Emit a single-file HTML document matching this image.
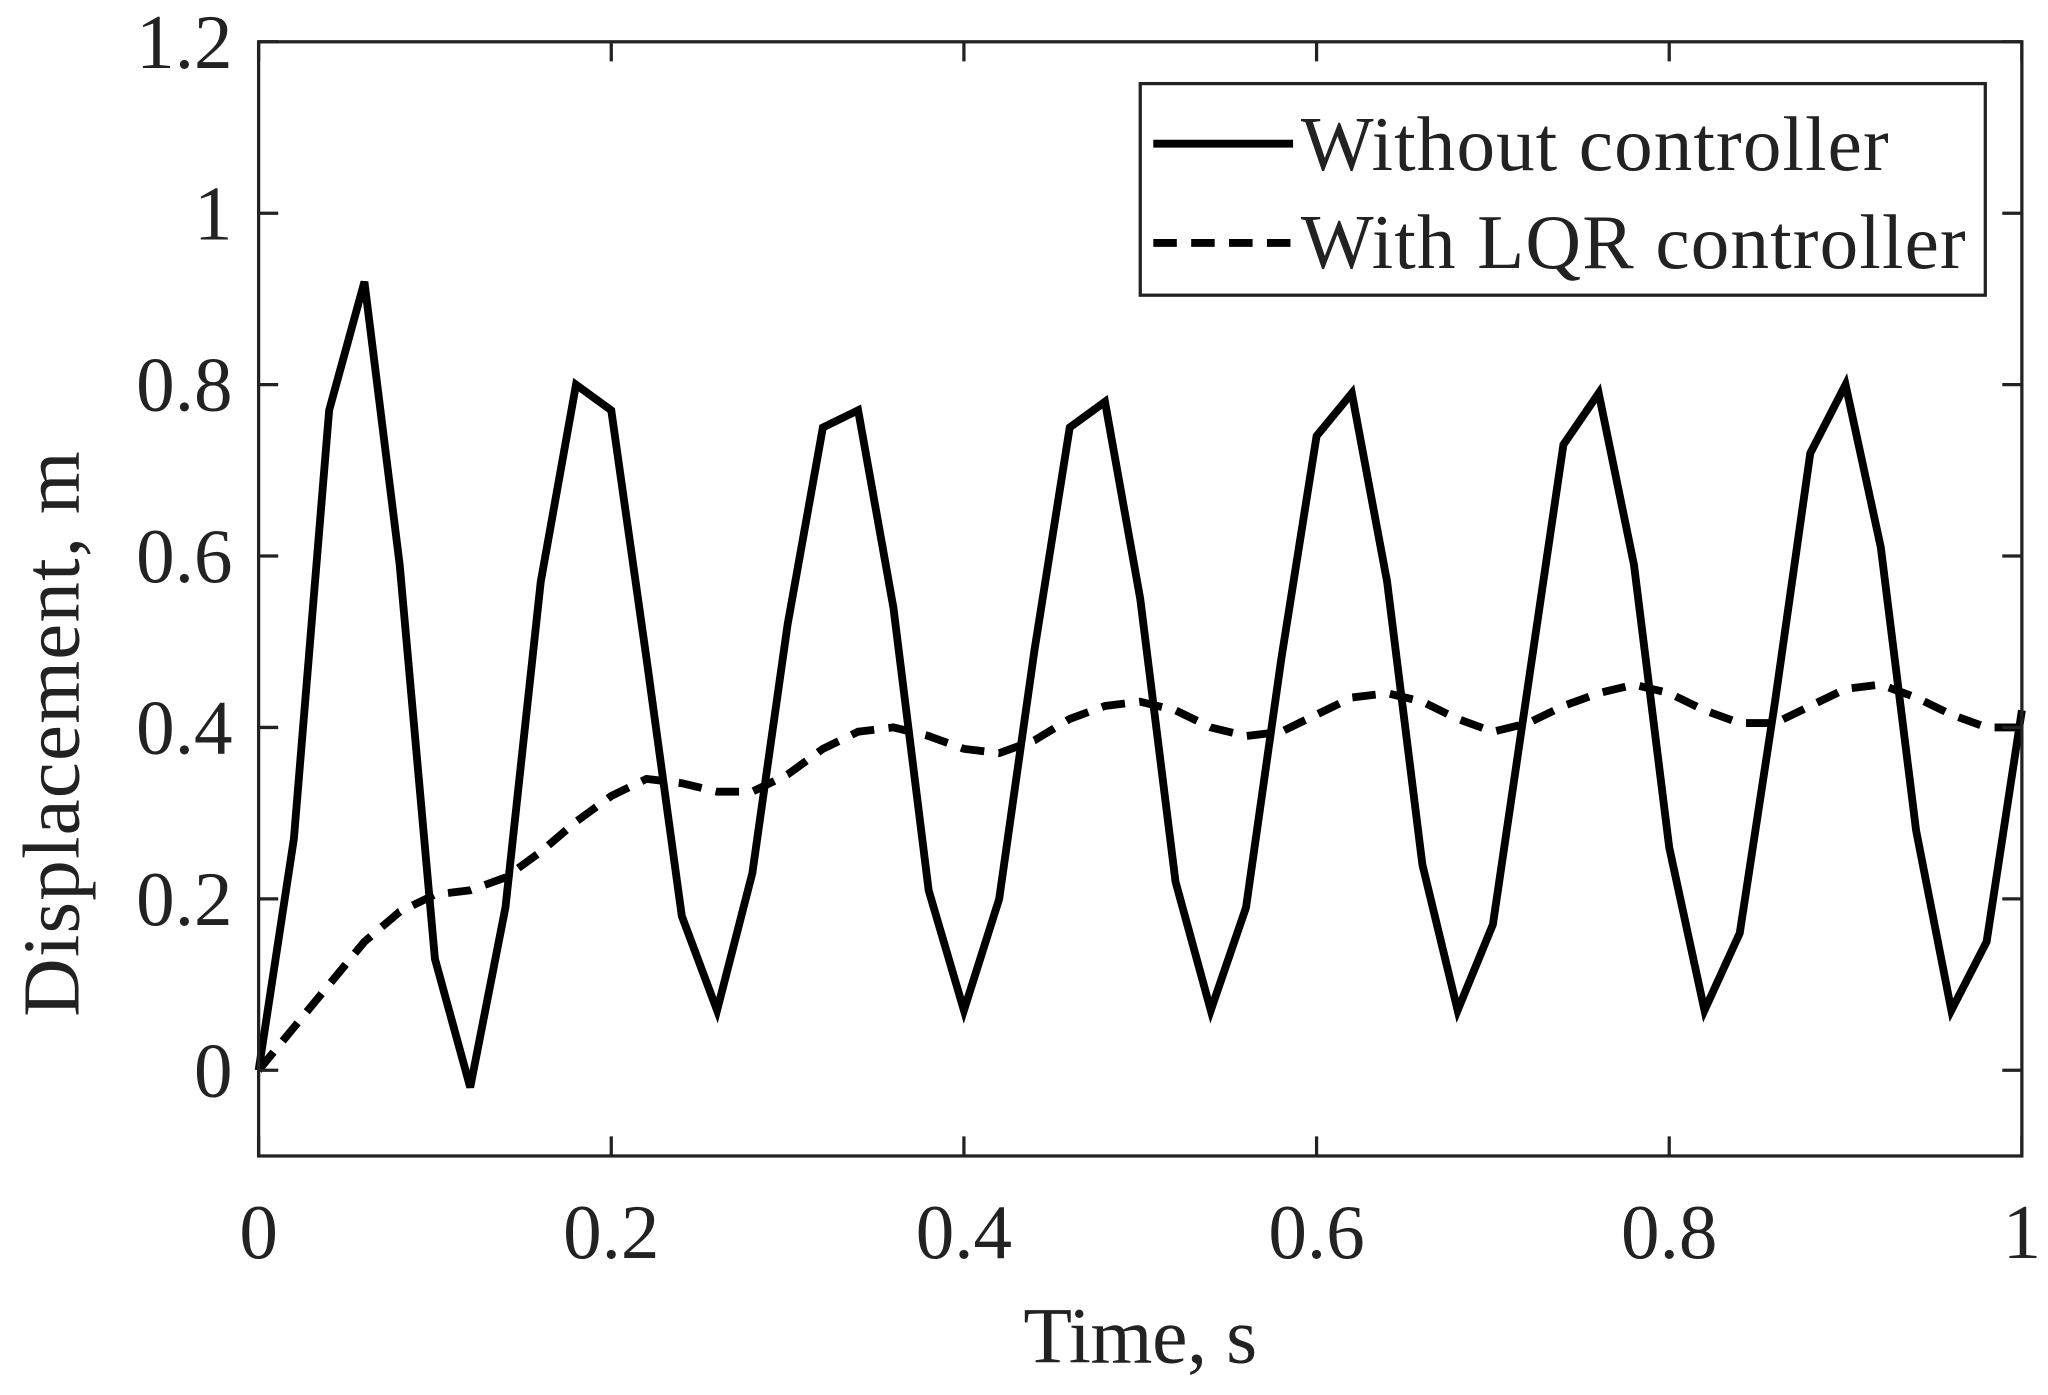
<!DOCTYPE html>
<html><head><meta charset="utf-8"><style>
html,body{margin:0;padding:0;background:#fff;}
svg{display:block;}
text{font-family:"Liberation Serif",serif;fill:#222;}
</style></head><body>
<svg id="chart" width="2048" height="1395" viewBox="0 0 1568 1068" preserveAspectRatio="none" xmlns="http://www.w3.org/2000/svg">
<rect x="0" y="0" width="1568" height="1068" fill="#fff"/>
<g id="plot"></g>
</svg>
<script>
const timeSteps = [0,0.02,0.04,0.06,0.08,0.10,0.12,0.14,0.16,0.18,0.20,0.22,0.24,0.26,0.28,0.30,0.32,0.34,0.36,0.38,0.40,0.42,0.44,0.46,0.48,0.50,0.52,0.54,0.56,0.58,0.60,0.62,0.64,0.66,0.68,0.70,0.72,0.74,0.76,0.78,0.80,0.82,0.84,0.86,0.88,0.90,0.92,0.94,0.96,0.98,1.00];
const withoutController = [0,0.27,0.77,0.92,0.59,0.13,-0.02,0.19,0.57,0.80,0.77,0.48,0.18,0.07,0.23,0.52,0.75,0.77,0.54,0.21,0.07,0.20,0.49,0.75,0.78,0.55,0.22,0.07,0.19,0.48,0.74,0.79,0.57,0.24,0.07,0.17,0.45,0.73,0.79,0.59,0.26,0.07,0.16,0.43,0.72,0.80,0.61,0.28,0.07,0.15,0.42];
const withLQR = [0,0.05,0.10,0.15,0.185,0.205,0.21,0.225,0.255,0.29,0.32,0.34,0.335,0.325,0.325,0.345,0.375,0.395,0.40,0.39,0.375,0.37,0.385,0.41,0.425,0.43,0.42,0.40,0.39,0.395,0.415,0.435,0.44,0.43,0.41,0.395,0.405,0.425,0.44,0.45,0.44,0.42,0.405,0.405,0.425,0.445,0.45,0.435,0.415,0.40,0.40];
const xTicks = [0,0.2,0.4,0.6,0.8,1];
const xTickLabels = ["0","0.2","0.4","0.6","0.8","1"];
const yTicks = [0,0.2,0.4,0.6,0.8,1,1.2];
const yTickLabels = ["0","0.2","0.4","0.6","0.8","1","1.2"];

const NS="http://www.w3.org/2000/svg";
const L=198,R=1548,T=32,B=885, xMin=0,xMax=1,yMin=-0.1,yMax=1.2;
const sx=v=>L+(v-xMin)/(xMax-xMin)*(R-L);
const sy=v=>B-(v-yMin)/(yMax-yMin)*(B-T);
const g=document.getElementById('plot');
function mk(tag,attrs,parent){const e=document.createElementNS(NS,tag);for(const k in attrs)e.setAttribute(k,attrs[k]);(parent||g).appendChild(e);return e;}

let d1=timeSteps.map((t,i)=>(i?'L':'M')+sx(t).toFixed(1)+' '+sy(withoutController[i]).toFixed(1)).join(' ');
const s1=mk('path',{d:d1,fill:'none',stroke:'#000','stroke-width':6,'stroke-linejoin':'miter'});


let d2=timeSteps.map((t,i)=>(i?'L':'M')+sx(t).toFixed(1)+' '+sy(withLQR[i]).toFixed(1)).join(' ');
const s2=mk('path',{d:d2,fill:'none',stroke:'#000','stroke-width':6,'stroke-dasharray':'18 11'});



const box=mk('rect',{x:L,y:T,width:R-L,height:B-T,fill:'none',stroke:'#222','stroke-width':2.5});



xTicks.forEach((v,i)=>{
  const x=sx(v);
  const t1=mk('line',{x1:x,y1:B,x2:x,y2:B-15,stroke:'#222','stroke-width':2.5});
  
  
  const t2=mk('line',{x1:x,y1:T,x2:x,y2:T+15,stroke:'#222','stroke-width':2.5});
  
  
  const lb=mk('text',{x:x,y:963,'font-size':59,'text-anchor':'middle'});
  lb.textContent=xTickLabels[i];
  
  
});
yTicks.forEach((v,i)=>{
  const y=sy(v);
  const t1=mk('line',{x1:L,y1:y,x2:L+15,y2:y,stroke:'#222','stroke-width':2.5});
  
  
  const t2=mk('line',{x1:R,y1:y,x2:R-15,y2:y,stroke:'#222','stroke-width':2.5});
  
  
  const lb=mk('text',{x:178,y:y+20,'font-size':59,'text-anchor':'end'});
  lb.textContent=yTickLabels[i];
  
  
});

const xt=mk('text',{x:873,y:1043,'font-size':61,'text-anchor':'middle',textLength:179});
xt.textContent='Time, s';


const yt=mk('text',{x:0,y:0,'font-size':62,'text-anchor':'middle',textLength:433,transform:'translate(60 562) rotate(-90)'});
yt.textContent='Displacement, m';



const lg=mk('g',{});


const lr=mk('rect',{x:873,y:64,width:647,height:162,fill:'#fff',stroke:'#222','stroke-width':2.5},lg);


const e1=mk('g',{},lg);


mk('line',{x1:883,y1:110,x2:990,y2:110,stroke:'#000','stroke-width':6},e1);
const tx1=mk('text',{x:996,y:130,'font-size':59,textLength:450},e1);
tx1.textContent='Without controller';
const e2=mk('g',{},lg);


mk('line',{x1:883,y1:186,x2:990,y2:186,stroke:'#000','stroke-width':6,'stroke-dasharray':'18 11'},e2);
const tx2=mk('text',{x:996,y:205,'font-size':59,textLength:509},e2);
tx2.textContent='With LQR controller';
</script>
</body></html>
